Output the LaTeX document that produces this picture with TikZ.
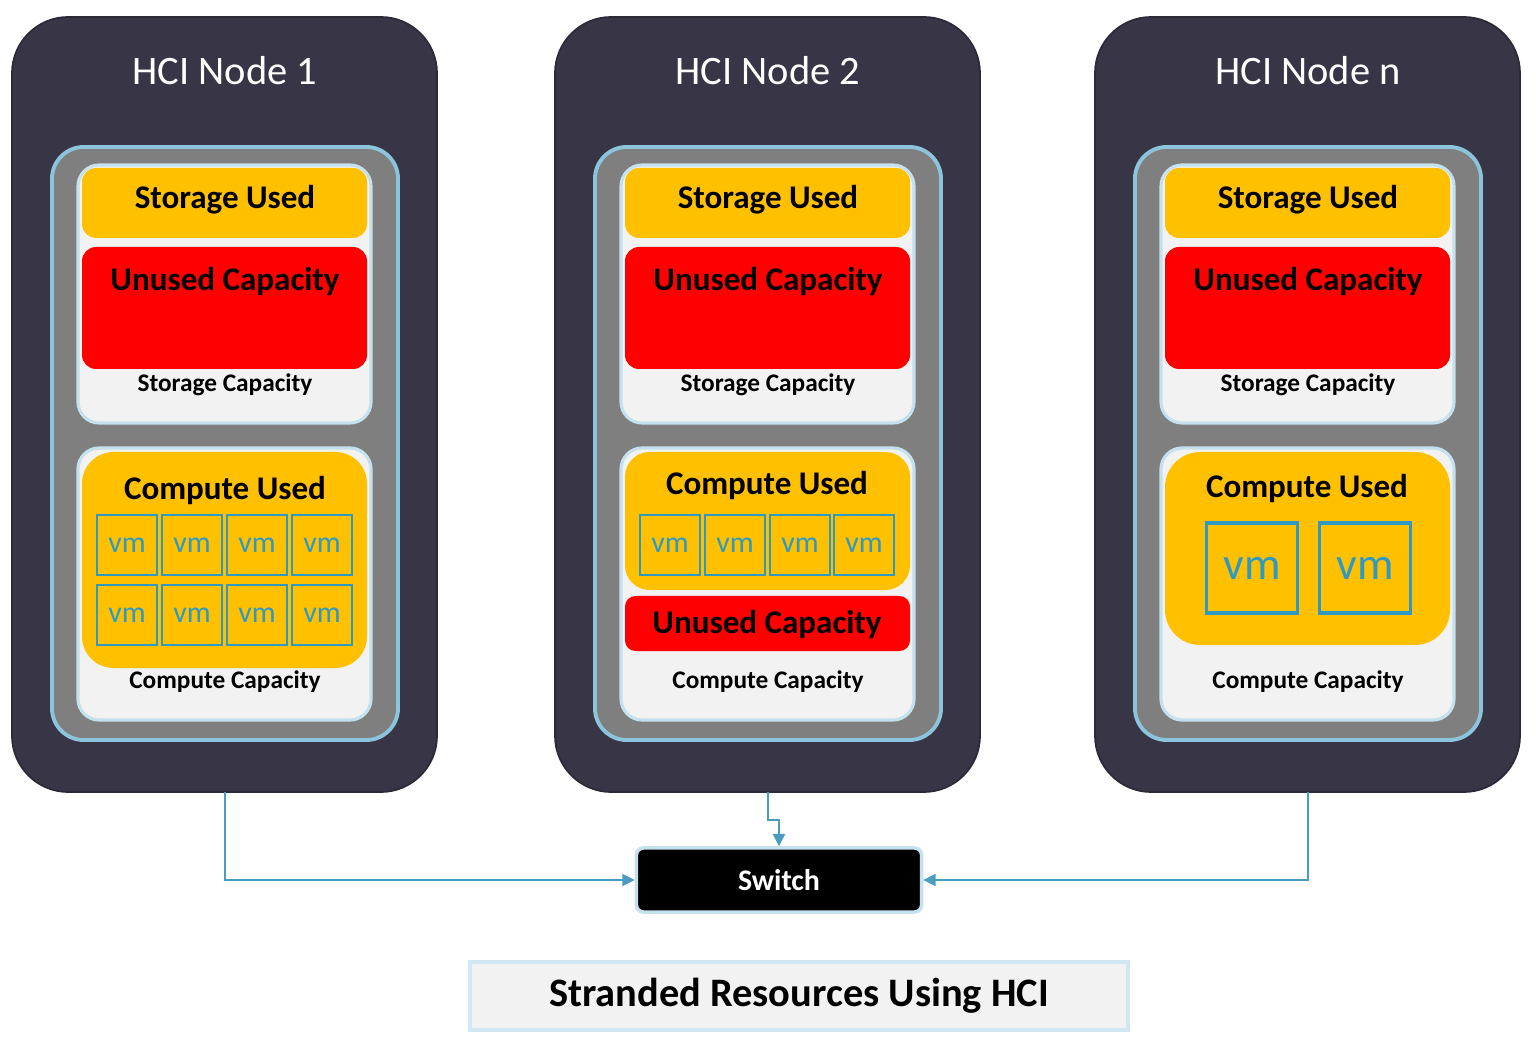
\documentclass[tikz,border=0pt]{standalone}
\usepackage{fontspec}
\setmainfont{Carlito}
\usetikzlibrary{positioning,arrows.meta}
\definecolor{hcidark}{HTML}{383546}
\definecolor{hcigray}{HTML}{7F7F7F}
\definecolor{hciedge}{HTML}{8CC4DC}
\definecolor{hcipale}{HTML}{F2F2F2}
\definecolor{hciyellow}{HTML}{FFC000}
\definecolor{hcivm}{HTML}{2E9AC4}
\definecolor{hciline}{HTML}{4A9CC0}
\tikzset{
    hostbox/.style={fill=hcidark, draw=hcidark!80!black, line width=0.5pt, rounded corners=16pt},
    trayarea/.style={fill=hcigray, draw=hciedge, line width=1.1pt, rounded corners=9pt},
    capbox/.style={fill=hcipale, draw=hciedge!50!white, line width=0.9pt, rounded corners=6pt},
    usedbox/.style={fill=hciyellow, draw=none, rounded corners=4pt},
    freebox/.style={fill=red, draw=none, rounded corners=4pt},
    vmbox/.style={draw=hcivm, line width=0.6pt, text=hcivm, inner sep=0pt},
    bigtext/.style={font=\fontsize{9.4}{11}\selectfont\bfseries},
    smalltext/.style={font=\fontsize{7.2}{9}\selectfont\bfseries},
    link/.style={draw=hciline, line width=0.4pt, -{Triangle[length=3.5pt,width=3.5pt]}}
}
\begin{document}
\begin{tikzpicture}[x=0.01cm, y=-0.01cm]
\useasboundingbox (0,0) rectangle (1536,1043);
% three hosts
\foreach \dx/\id/\name in {0/a/1, 543/b/2, 1083/c/n}{
    \begin{scope}[xshift=\dx*0.01cm]
    \draw[hostbox] (12,17) rectangle (437,792);
    \node[text=white, font=\fontsize{11.5}{14}\selectfont] (title\id) at (225,71) {HCI Node \name};
    \coordinate (foot\id) at (225,792);
    \draw[trayarea] (52,147) rectangle (398,740);
    \draw[capbox] (78,165) rectangle (371,423);
    \draw[usedbox] (82,168) rectangle (367,238);
    \node[bigtext] (su\id) at (225,200) {Storage Used};
    \draw[freebox] (82,247) rectangle (367,369);
    \node[bigtext] (uc\id) at (225,282) {Unused Capacity};
    \node[smalltext] (sc\id) at (225,385) {Storage Capacity};
    \draw[capbox] (78,448) rectangle (371,720);
    \node[smalltext] (cc\id) at (225,682) {Compute Capacity};
    \end{scope}
}
% node 1 compute
\draw[usedbox, rounded corners=9pt] (82,452) rectangle (367,668);
\node[bigtext] (cu1) at (225,491) {Compute Used};
\foreach \x in {127,192,257,322}{
    \node[vmbox, minimum size=0.6cm, font=\fontsize{8.5}{10}\selectfont] at (\x,545) {vm};
    \node[vmbox, minimum size=0.6cm, font=\fontsize{8.5}{10}\selectfont] at (\x,615) {vm};
}
% node 2 compute
\draw[usedbox, rounded corners=7pt] (625,452) rectangle (910,590);
\node[bigtext] (cu2) at (767,486) {Compute Used};
\foreach \x in {670,735,800,864}
    \node[vmbox, minimum size=0.6cm, font=\fontsize{8.5}{10}\selectfont] at (\x,545) {vm};
\draw[freebox, rounded corners=3pt] (625,596) rectangle (910,651);
\node[bigtext] (uc2b) at (767,625) {Unused Capacity};
% node n compute
\draw[usedbox, rounded corners=10pt] (1165,452) rectangle (1450,645);
\node[bigtext] (cu3) at (1307,489) {Compute Used};
\foreach \x in {1252,1365}
    \node[vmbox, minimum width=0.91cm, minimum height=0.9cm, line width=0.9pt, font=\fontsize{13}{15}\selectfont] at (\x,568) {vm};
% switch
\node[fill=black, draw=hciedge!50!white, line width=1pt, rounded corners=2pt, text=white,
      minimum width=2.85cm, minimum height=0.64cm, font=\fontsize{8.5}{10}\selectfont\bfseries] (switch) at (779,880) {Switch};
\draw[link] (foota) |- (switch.west);
\draw[link] (footc) |- (switch.east);
\draw[link] (footb) -- ++(0,28) -| (switch.north);
% caption
\node[fill=hcipale, draw=hciedge!40!white, line width=1pt, minimum width=6.58cm, minimum height=0.68cm,
      font=\fontsize{11.5}{14}\selectfont\bfseries] (caption) at (799,996) {Stranded Resources Using HCI};
\end{tikzpicture}
\end{document}
